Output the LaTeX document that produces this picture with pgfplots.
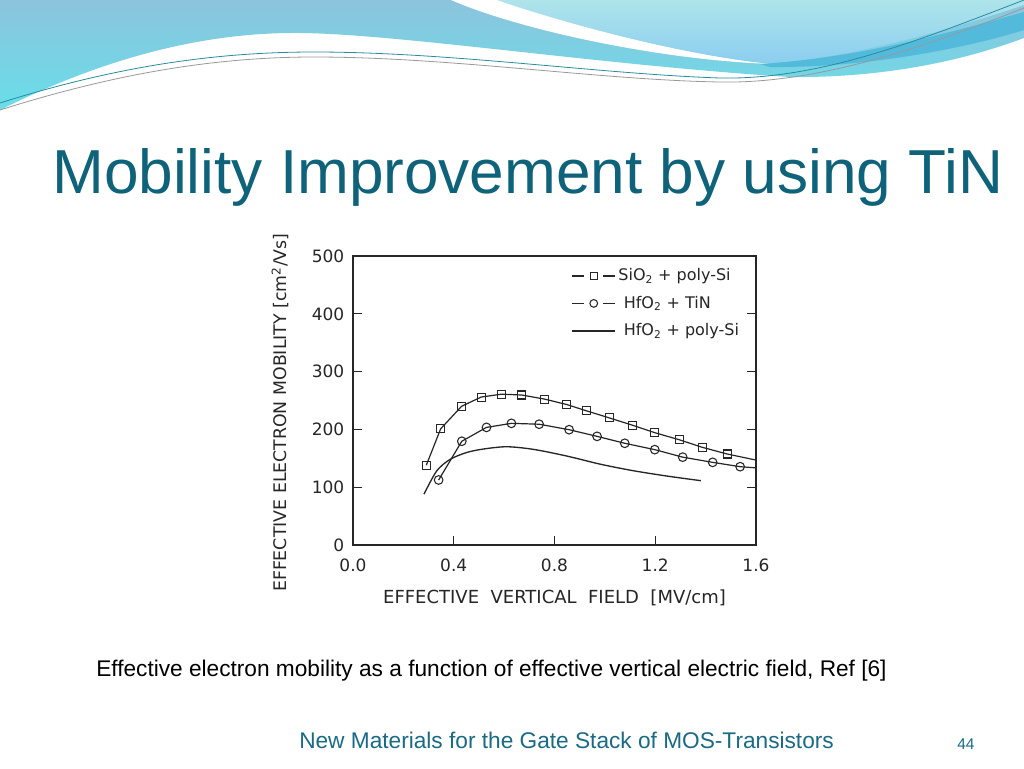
\documentclass[border=0pt]{standalone}
\usepackage{fontspec}
\setmainfont{Liberation Sans}
\newfontfamily\chartfont{DejaVu Sans}
\usepackage{pgfplots}
\pgfplotsset{compat=1.18}
\definecolor{titleteal}{RGB}{14,98,122}
\definecolor{footteal}{RGB}{26,106,133}
\definecolor{bandtop}{RGB}{140,196,220}
\definecolor{bandbot}{RGB}{104,222,234}
\definecolor{lighttop}{RGB}{174,228,234}
\definecolor{lightbot}{RGB}{140,206,240}
\definecolor{streak}{RGB}{84,186,220}
\definecolor{wireteal}{RGB}{40,140,160}

\begin{document}
\begin{tikzpicture}
\useasboundingbox (0,0) rectangle (768pt,-576pt);
\fill[white] (0,0) rectangle (768pt,-576pt);

% slide header, coordinates in pixels, y downwards
\begin{scope}[x=0.75pt,y=-0.75pt]
\shade[top color=bandtop, bottom color=bandbot]
  (0,0) -- (1024,0) -- (1024,38) .. controls (960,62) and (880,78) .. (790,77)
  .. controls (600,65) and (400,34) .. (300,33)
  .. controls (200,32) and (100,60) .. (0,110) -- cycle;
\shade[top color=lighttop, bottom color=lightbot]
  (497,0) .. controls (560,22) and (680,55) .. (771,63)
  .. controls (850,58) and (950,30) .. (1024,5) -- (1024,0) -- cycle;
\fill[white] (451,0) .. controls (520,30) and (660,60) .. (771,64)
  .. controls (680,55) and (560,22) .. (497,0) -- cycle;
\fill[streak] (760,64) .. controls (860,58) and (960,30) .. (1024,12)
  -- (1024,30) .. controls (960,50) and (860,68) .. (770,67) -- cycle;
\draw[wireteal, line width=0.6pt] (0,103) .. controls (120,65) and (220,52) .. (314,52)
  .. controls (450,52) and (600,74) .. (720,78) .. controls (820,80) and (920,40) .. (1024,0);
\draw[black!40, line width=0.6pt] (0,110) .. controls (120,72) and (220,57) .. (314,57)
  .. controls (450,57) and (600,80) .. (720,82) .. controls (820,84) and (930,45) .. (1024,8);

\node[anchor=base west, inner sep=0, text=titleteal, font=\fontsize{46.6}{50}\selectfont]
  at (52,193) {Mobility Improvement by using TiN};
\node[anchor=base west, inner sep=0, font=\fontsize{17}{20}\selectfont]
  at (96,676) {Effective electron mobility as a function of effective vertical electric field, Ref [6]};
\node[anchor=base west, inner sep=0, text=footteal, font=\fontsize{17}{20}\selectfont]
  at (299,748) {New Materials for the Gate Stack of MOS-Transistors};
\node[anchor=base west, inner sep=0, text=footteal, font=\fontsize{11.6}{14}\selectfont]
  at (957,749) {44};
\end{scope}

\begin{axis}[
  at={(264.75pt,-408.75pt)}, anchor=south west,
  scale only axis, width=302.25pt, height=216.75pt,
  xmin=0, xmax=1.6, ymin=0, ymax=500,
  xtick={0,0.4,0.8,1.2,1.6}, ytick={0,100,200,300,400,500},
  xtick pos=bottom, ytick pos=both, tick align=inside,
  major tick length=7pt,
  axis line style={line width=1.1pt, black!85},
  tick style={line width=1pt, black!85},
  tick label style={font=\chartfont\fontsize{12.75}{14}\selectfont, text=black!85},
  /pgf/number format/assume math mode=true,
  xticklabel style={yshift=-6.5pt, /pgf/number format/.cd, fixed, fixed zerofill, precision=1},
  yticklabel style={xshift=-3pt},
  label style={font=\chartfont\fontsize{13.5}{15}\selectfont, text=black!85},
  xlabel={EFFECTIVE\ \ VERTICAL\ \ FIELD\ \ [MV/cm]},
  ylabel={\fontsize{13}{15}\selectfont EFFECTIVE ELECTRON MOBILITY [cm\textsuperscript{2}/Vs]},
  xlabel style={at={(axis description cs:0.5,-0.183)}, anchor=center},
  ylabel style={at={(axis description cs:-0.181,0.458)}, anchor=center},
  clip marker paths=true,
  legend cell align=left,
  legend style={at={(axis description cs:0.975,0.975)}, anchor=north east,
    draw=none, fill=none, row sep=6pt,
    font=\chartfont\fontsize{12}{14}\selectfont, text=black!85},
]
\addplot[black!85, line width=0.9pt, mark=square,
  mark options={solid, fill=white, line width=0.8pt}, mark size=3pt,
  legend image code/.code={
    \draw[black!85, line width=0.9pt] (0pt,0pt) -- (9pt,0pt) (23pt,0pt) -- (32pt,0pt);
    \draw[black!85, line width=0.8pt] (13.4pt,-2.6pt) rectangle (18.6pt,2.6pt);}]
  coordinates {(0.291,138) (0.348,201) (0.431,240) (0.509,256) (0.590,261)
    (0.670,259.5) (0.760,252.5) (0.849,243) (0.928,232) (1.017,220)
    (1.108,207.5) (1.197,194.5) (1.296,182) (1.387,169) (1.485,157.5) (1.61,146)};
\addlegendentry{SiO\textsubscript{2} + poly-Si}
\addplot[black!85, line width=0.9pt, mark=o,
  mark options={solid, fill=white, line width=0.8pt}, mark size=3.25pt,
  legend image code/.code={
    \draw[black!85, line width=0.9pt] (0pt,0pt) -- (9pt,0pt) (23pt,0pt) -- (32pt,0pt);
    \draw[black!85, line width=0.8pt] (16pt,0pt) circle (2.9pt);}]
  coordinates {(0.340,112.5) (0.432,179.5) (0.530,203.5) (0.629,210.5)
    (0.739,209) (0.858,199.5) (0.969,188) (1.079,176) (1.198,165)
    (1.309,152) (1.428,143) (1.537,135.5) (1.615,133)};
\addlegendentry{\hspace{4pt}HfO\textsubscript{2} + TiN}
\addplot[black!85, line width=1pt, smooth, tension=0.5,
  legend image code/.code={
    \draw[black!85, line width=1pt] (0pt,0pt) -- (32pt,0pt);}]
  coordinates {(0.282,88) (0.332,128) (0.385,148) (0.451,160) (0.517,166)
    (0.610,170) (0.716,165.5) (0.848,154) (0.980,140) (1.112,128.6)
    (1.245,119.4) (1.381,111.3)};
\addlegendentry{\hspace{4pt}HfO\textsubscript{2} + poly-Si}
\end{axis}
\end{tikzpicture}
\end{document}
